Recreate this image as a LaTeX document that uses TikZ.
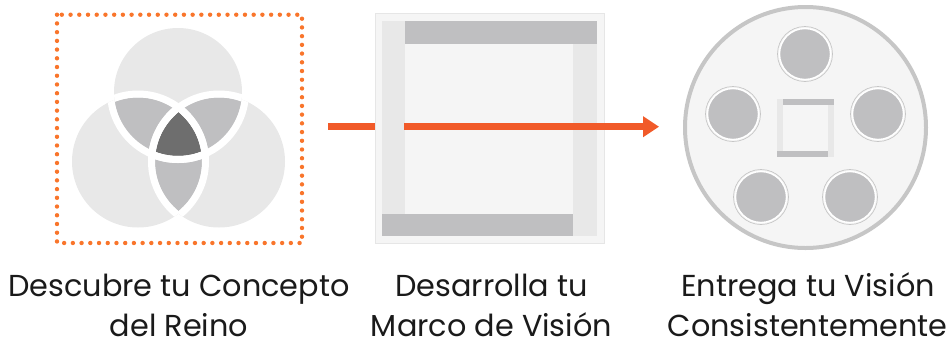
\documentclass[tikz,border=0pt]{standalone}
\usepackage{fontspec}
\setmainfont{Poppins}
\usetikzlibrary{arrows.meta}
\definecolor{lightg}{HTML}{E8E8E8}
\definecolor{midg}{HTML}{BFBFC1}
\definecolor{darkg}{HTML}{6E6E6E}
\definecolor{pale}{HTML}{F5F5F5}
\definecolor{edgeg}{HTML}{E6E6E6}
\definecolor{ringg}{HTML}{C6C6C6}
\definecolor{dotor}{HTML}{F9752B}
\definecolor{arrowor}{HTML}{F15A29}
\definecolor{ink}{HTML}{1A1A1A}
\tikzset{
  x=1pt,y=-1pt,
  caption/.style={font=\fontsize{30.3}{40}\selectfont,text=ink,align=center,inner sep=0pt,anchor=base},
  ringline/.style={draw=white,line width=7pt},
  flowline/.style={draw=arrowor,line width=7pt},
  dotline/.style={draw=dotor,line width=4.4pt,line cap=round,dash pattern=on 0pt off 8.72pt},
  seat/.style={circle,minimum size=51pt,inner sep=0pt,fill=midg,draw=white,line width=1.4pt},
  seatring/.style={draw=ringg,line width=0.7pt,fill=none},
}
\begin{document}
\begin{tikzpicture}
\useasboundingbox (0,0) rectangle (951,341);
% dotted frame
\draw[dotline] (57,14.7) rectangle (302,243);
% venn
\def\vennT{(178,92) circle[radius=64]}
\def\vennL{(138,161.5) circle[radius=64]}
\def\vennR{(219,161.5) circle[radius=64]}
\def\vennOL{(138,161.5) circle[radius=66]}
\def\vennOR{(219,161.5) circle[radius=66]}
\fill[lightg] \vennT; \fill[lightg] \vennOL; \fill[lightg] \vennOR;
\begin{scope}\clip \vennT; \fill[midg] \vennL; \fill[midg] \vennR; \end{scope}
\begin{scope}\clip \vennL; \fill[midg] \vennR; \end{scope}
\begin{scope}\clip \vennT; \clip \vennL; \fill[darkg] \vennR; \end{scope}
\begin{scope}\clip \vennOL; \draw[ringline] (178,92) circle[radius=67.5]; \draw[ringline] (219,161.5) circle[radius=67.5]; \end{scope}
\begin{scope}\clip \vennOR; \draw[ringline] (178,92) circle[radius=67.5]; \draw[ringline] (138,161.5) circle[radius=67.5]; \end{scope}
\begin{scope}\clip \vennT; \draw[ringline] (138,161.5) circle[radius=67.5]; \draw[ringline] (219,161.5) circle[radius=67.5]; \end{scope}
% framework square
\draw[fill=pale,draw=edgeg,line width=0.8pt] (375,13.5) rectangle (604,243);
\fill[lightg] (382,21) rectangle (405,214);
\fill[lightg] (573,44) rectangle (597,236);
\fill[midg] (405,21) rectangle (597,44);
\fill[midg] (382,214) rectangle (573,236);
% arrow
\coordinate (a1) at (328,126.7);
\coordinate (a2) at (375,126.7);
\coordinate (a3) at (404,126.7);
\coordinate (a4) at (659,126.7);
\draw[flowline] (a1) -- (a2);
\draw[flowline,-{Triangle[length=16pt,width=20pt]}] (a3) -- (a4);
% round table
\draw[fill=pale,draw=ringg,line width=4pt] (805.5,127.5) circle[radius=120.5];
\foreach \n/\px/\py in {t/805/54,l/733/114,r/878/114,bl/761/197,br/850/197}{
  \draw[seatring] (\px,\py) circle[radius=27.5];
  \node[seat] (\n) at (\px,\py) {};
}
\fill[lightg] (777,99) rectangle (783,157);
\fill[lightg] (828,105) rectangle (834,157);
\fill[midg] (783,99) rectangle (834,105);
\fill[midg] (777,151) rectangle (828,157);
% captions
\node[caption] (c1a) at (179,296.7) {Descubre tu Concepto};
\node[caption] (c1b) at (179,336) {del Reino};
\node[caption] (c2a) at (491.5,296.7) {Desarrolla tu};
\node[caption] (c2b) at (491.5,336) {Marco de Visión};
\node[caption] (c3a) at (808,296.7) {Entrega tu Visión};
\node[caption] (c3b) at (807.5,336) {Consistentemente};
\end{tikzpicture}
\end{document}
